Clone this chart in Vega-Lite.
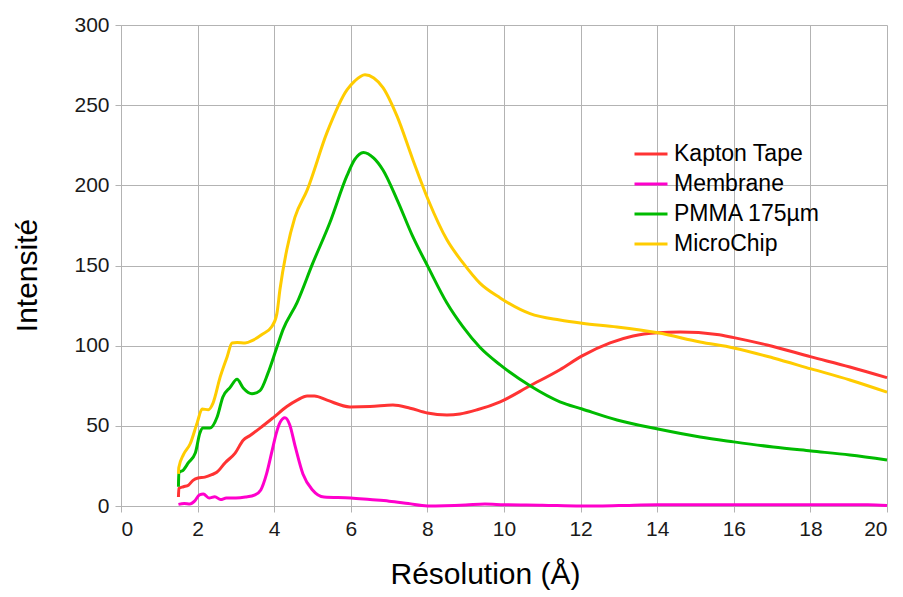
{
  "$schema": "https://vega.github.io/schema/vega-lite/v6.json",
  "width": 766,
  "height": 481,
  "autosize": "none",
  "padding": {"left": 121, "top": 25, "right": 16, "bottom": 91},
  "background": "white",
  "config": {
    "font": "Liberation Sans",
    "view": {"stroke": null},
    "axis": {
      "gridColor": "#b3b3b3",
      "gridWidth": 1,
      "domainColor": "#b3b3b3",
      "tickColor": "#b3b3b3",
      "tickSize": 6,
      "labelFont": "Liberation Sans",
      "labelFontSize": 21,
      "labelColor": "#1a1a1a",
      "titleFont": "Liberation Sans",
      "titleFontSize": 30,
      "titleFontWeight": "normal",
      "titleColor": "#000000"
    }
  },
  "datasets": {
    "curves": [
      {"series": "Kapton Tape", "res": 1.5, "val": 5.6},
      {"series": "Kapton Tape", "res": 1.51, "val": 11},
      {"series": "Kapton Tape", "res": 1.63, "val": 12},
      {"series": "Kapton Tape", "res": 1.76, "val": 13},
      {"series": "Kapton Tape", "res": 1.88, "val": 16},
      {"series": "Kapton Tape", "res": 2.01, "val": 17.5},
      {"series": "Kapton Tape", "res": 2.19, "val": 18},
      {"series": "Kapton Tape", "res": 2.37, "val": 19.5},
      {"series": "Kapton Tape", "res": 2.5, "val": 21},
      {"series": "Kapton Tape", "res": 2.72, "val": 27},
      {"series": "Kapton Tape", "res": 2.98, "val": 33},
      {"series": "Kapton Tape", "res": 3.19, "val": 41},
      {"series": "Kapton Tape", "res": 3.37, "val": 44},
      {"series": "Kapton Tape", "res": 3.63, "val": 48.6},
      {"series": "Kapton Tape", "res": 3.97, "val": 55},
      {"series": "Kapton Tape", "res": 4.33, "val": 62},
      {"series": "Kapton Tape", "res": 4.6, "val": 66},
      {"series": "Kapton Tape", "res": 4.86, "val": 68.6},
      {"series": "Kapton Tape", "res": 5.05, "val": 68.6},
      {"series": "Kapton Tape", "res": 5.38, "val": 66},
      {"series": "Kapton Tape", "res": 5.98, "val": 61.8},
      {"series": "Kapton Tape", "res": 6.5, "val": 62},
      {"series": "Kapton Tape", "res": 7.1, "val": 63},
      {"series": "Kapton Tape", "res": 7.55, "val": 61},
      {"series": "Kapton Tape", "res": 8.0, "val": 58},
      {"series": "Kapton Tape", "res": 8.51, "val": 56.8},
      {"series": "Kapton Tape", "res": 8.85, "val": 57.4},
      {"series": "Kapton Tape", "res": 9.3, "val": 60},
      {"series": "Kapton Tape", "res": 9.9, "val": 65},
      {"series": "Kapton Tape", "res": 10.68, "val": 75},
      {"series": "Kapton Tape", "res": 11.46, "val": 85},
      {"series": "Kapton Tape", "res": 12.04, "val": 93.6},
      {"series": "Kapton Tape", "res": 12.77, "val": 101.7},
      {"series": "Kapton Tape", "res": 13.37, "val": 106},
      {"series": "Kapton Tape", "res": 14.02, "val": 108},
      {"series": "Kapton Tape", "res": 14.6, "val": 108.5},
      {"series": "Kapton Tape", "res": 15.56, "val": 107},
      {"series": "Kapton Tape", "res": 16.0, "val": 105},
      {"series": "Kapton Tape", "res": 16.87, "val": 100.4},
      {"series": "Kapton Tape", "res": 18.02, "val": 93},
      {"series": "Kapton Tape", "res": 19.03, "val": 86.7},
      {"series": "Kapton Tape", "res": 20.0, "val": 80},

      {"series": "Membrane", "res": 1.5, "val": 1},
      {"series": "Membrane", "res": 1.65, "val": 1.5},
      {"series": "Membrane", "res": 1.8, "val": 1.2},
      {"series": "Membrane", "res": 1.92, "val": 3},
      {"series": "Membrane", "res": 2.05, "val": 7},
      {"series": "Membrane", "res": 2.15, "val": 7.5},
      {"series": "Membrane", "res": 2.3, "val": 5},
      {"series": "Membrane", "res": 2.45, "val": 5.8},
      {"series": "Membrane", "res": 2.6, "val": 4},
      {"series": "Membrane", "res": 2.75, "val": 5},
      {"series": "Membrane", "res": 3.0, "val": 5},
      {"series": "Membrane", "res": 3.25, "val": 5.6},
      {"series": "Membrane", "res": 3.5, "val": 7},
      {"series": "Membrane", "res": 3.65, "val": 10},
      {"series": "Membrane", "res": 3.8, "val": 20},
      {"series": "Membrane", "res": 3.95, "val": 35},
      {"series": "Membrane", "res": 4.05, "val": 45},
      {"series": "Membrane", "res": 4.15, "val": 52},
      {"series": "Membrane", "res": 4.28, "val": 55},
      {"series": "Membrane", "res": 4.4, "val": 51},
      {"series": "Membrane", "res": 4.55, "val": 37},
      {"series": "Membrane", "res": 4.75, "val": 20},
      {"series": "Membrane", "res": 5.0, "val": 10},
      {"series": "Membrane", "res": 5.3, "val": 5.6},
      {"series": "Membrane", "res": 6.0, "val": 5},
      {"series": "Membrane", "res": 6.5, "val": 4},
      {"series": "Membrane", "res": 7.0, "val": 3},
      {"series": "Membrane", "res": 7.5, "val": 1.5},
      {"series": "Membrane", "res": 8.0, "val": 0},
      {"series": "Membrane", "res": 9.0, "val": 0.6},
      {"series": "Membrane", "res": 9.5, "val": 1.2},
      {"series": "Membrane", "res": 10.0, "val": 0.8},
      {"series": "Membrane", "res": 11.0, "val": 0.5},
      {"series": "Membrane", "res": 12.0, "val": 0},
      {"series": "Membrane", "res": 13.0, "val": 0.3},
      {"series": "Membrane", "res": 14.0, "val": 0.8},
      {"series": "Membrane", "res": 16.0, "val": 0.8},
      {"series": "Membrane", "res": 18.0, "val": 0.8},
      {"series": "Membrane", "res": 19.5, "val": 0.8},
      {"series": "Membrane", "res": 20.0, "val": 0.3},

      {"series": "PMMA 175µm", "res": 1.5, "val": 12},
      {"series": "PMMA 175µm", "res": 1.51, "val": 20.6},
      {"series": "PMMA 175µm", "res": 1.63, "val": 22.5},
      {"series": "PMMA 175µm", "res": 1.76, "val": 27},
      {"series": "PMMA 175µm", "res": 1.94, "val": 33},
      {"series": "PMMA 175µm", "res": 2.06, "val": 45.5},
      {"series": "PMMA 175µm", "res": 2.14, "val": 48.6},
      {"series": "PMMA 175µm", "res": 2.32, "val": 48.6},
      {"series": "PMMA 175µm", "res": 2.51, "val": 55.5},
      {"series": "PMMA 175µm", "res": 2.66, "val": 68},
      {"series": "PMMA 175µm", "res": 2.85, "val": 74},
      {"series": "PMMA 175µm", "res": 3.03, "val": 79},
      {"series": "PMMA 175µm", "res": 3.19, "val": 73.6},
      {"series": "PMMA 175µm", "res": 3.42, "val": 70},
      {"series": "PMMA 175µm", "res": 3.63, "val": 72},
      {"series": "PMMA 175µm", "res": 3.84, "val": 83},
      {"series": "PMMA 175µm", "res": 4.07, "val": 99},
      {"series": "PMMA 175µm", "res": 4.23, "val": 110},
      {"series": "PMMA 175µm", "res": 4.6, "val": 127},
      {"series": "PMMA 175µm", "res": 5.01, "val": 151.6},
      {"series": "PMMA 175µm", "res": 5.45, "val": 176.5},
      {"series": "PMMA 175µm", "res": 5.9, "val": 206},
      {"series": "PMMA 175µm", "res": 6.1, "val": 216},
      {"series": "PMMA 175µm", "res": 6.33, "val": 220.5},
      {"series": "PMMA 175µm", "res": 6.6, "val": 217},
      {"series": "PMMA 175µm", "res": 6.84, "val": 209.6},
      {"series": "PMMA 175µm", "res": 7.21, "val": 191},
      {"series": "PMMA 175µm", "res": 7.62, "val": 168},
      {"series": "PMMA 175µm", "res": 8.02, "val": 149},
      {"series": "PMMA 175µm", "res": 8.51, "val": 126.6},
      {"series": "PMMA 175µm", "res": 8.93, "val": 111.7},
      {"series": "PMMA 175µm", "res": 9.37, "val": 99},
      {"series": "PMMA 175µm", "res": 9.9, "val": 88},
      {"series": "PMMA 175µm", "res": 10.68, "val": 75},
      {"series": "PMMA 175µm", "res": 11.46, "val": 65},
      {"series": "PMMA 175µm", "res": 12.04, "val": 60.5},
      {"series": "PMMA 175µm", "res": 12.95, "val": 53.6},
      {"series": "PMMA 175µm", "res": 14.02, "val": 48},
      {"series": "PMMA 175µm", "res": 15.12, "val": 43},
      {"series": "PMMA 175µm", "res": 16.0, "val": 40},
      {"series": "PMMA 175µm", "res": 17.03, "val": 36.8},
      {"series": "PMMA 175µm", "res": 18.02, "val": 34.3},
      {"series": "PMMA 175µm", "res": 19.03, "val": 31.8},
      {"series": "PMMA 175µm", "res": 20.0, "val": 28.7},

      {"series": "MicroChip", "res": 1.5, "val": 20},
      {"series": "MicroChip", "res": 1.51, "val": 24},
      {"series": "MicroChip", "res": 1.63, "val": 32},
      {"series": "MicroChip", "res": 1.81, "val": 39},
      {"series": "MicroChip", "res": 1.99, "val": 52},
      {"series": "MicroChip", "res": 2.12, "val": 60.5},
      {"series": "MicroChip", "res": 2.28, "val": 60},
      {"series": "MicroChip", "res": 2.4, "val": 64},
      {"series": "MicroChip", "res": 2.59, "val": 80.5},
      {"series": "MicroChip", "res": 2.77, "val": 93},
      {"series": "MicroChip", "res": 2.9, "val": 101.7},
      {"series": "MicroChip", "res": 3.03, "val": 102},
      {"series": "MicroChip", "res": 3.24, "val": 101.7},
      {"series": "MicroChip", "res": 3.45, "val": 103.5},
      {"series": "MicroChip", "res": 3.68, "val": 107},
      {"series": "MicroChip", "res": 3.94, "val": 112},
      {"series": "MicroChip", "res": 4.07, "val": 120},
      {"series": "MicroChip", "res": 4.15, "val": 135},
      {"series": "MicroChip", "res": 4.33, "val": 160},
      {"series": "MicroChip", "res": 4.54, "val": 180},
      {"series": "MicroChip", "res": 4.86, "val": 197},
      {"series": "MicroChip", "res": 5.38, "val": 233},
      {"series": "MicroChip", "res": 5.9, "val": 259.5},
      {"series": "MicroChip", "res": 6.1, "val": 265},
      {"series": "MicroChip", "res": 6.37, "val": 269},
      {"series": "MicroChip", "res": 6.6, "val": 267},
      {"series": "MicroChip", "res": 6.84, "val": 261},
      {"series": "MicroChip", "res": 7.21, "val": 243},
      {"series": "MicroChip", "res": 7.62, "val": 216},
      {"series": "MicroChip", "res": 8.02, "val": 191},
      {"series": "MicroChip", "res": 8.51, "val": 166},
      {"series": "MicroChip", "res": 8.93, "val": 151.6},
      {"series": "MicroChip", "res": 9.37, "val": 139},
      {"series": "MicroChip", "res": 9.9, "val": 129.8},
      {"series": "MicroChip", "res": 10.68, "val": 120},
      {"series": "MicroChip", "res": 11.46, "val": 116},
      {"series": "MicroChip", "res": 12.04, "val": 114},
      {"series": "MicroChip", "res": 12.95, "val": 111.7},
      {"series": "MicroChip", "res": 14.02, "val": 108},
      {"series": "MicroChip", "res": 15.12, "val": 102.3},
      {"series": "MicroChip", "res": 16.0, "val": 98.6},
      {"series": "MicroChip", "res": 17.03, "val": 92.3},
      {"series": "MicroChip", "res": 18.02, "val": 85.5},
      {"series": "MicroChip", "res": 19.03, "val": 78.6},
      {"series": "MicroChip", "res": 20.0, "val": 71}
    ]
  },
  "data": {"name": "curves"},
  "mark": {"type": "line", "strokeWidth": 3, "interpolate": "monotone"},
  "encoding": {
    "x": {
      "field": "res",
      "type": "quantitative",
      "title": "Résolution (Å)",
      "scale": {"domain": [0, 20], "nice": false, "zero": false},
      "axis": {"values": [0, 2, 4, 6, 8, 10, 12, 14, 16, 18, 20], "labelPadding": 6, "titlePadding": 20, "titleX": 364}
    },
    "y": {
      "field": "val",
      "type": "quantitative",
      "title": "Intensité",
      "scale": {"domain": [0, 300], "nice": false},
      "axis": {"values": [0, 50, 100, 150, 200, 250, 300], "labelPadding": 6, "titlePadding": 31, "titleY": 250}
    },
    "color": {
      "field": "series",
      "type": "nominal",
      "sort": ["Kapton Tape", "Membrane", "PMMA 175µm", "MicroChip"],
      "scale": {
        "domain": ["Kapton Tape", "Membrane", "PMMA 175µm", "MicroChip"],
        "range": ["#ff3333", "#ff00cc", "#00bb00", "#ffcc00"]
      },
      "legend": {
        "title": null,
        "orient": "none",
        "legendX": 512,
        "legendY": 111,
        "symbolType": "stroke",
        "symbolSize": 1089,
        "symbolStrokeWidth": 3,
        "labelFont": "Liberation Sans",
        "labelFontSize": 23,
        "labelColor": "#000000",
        "labelOffset": 5,
        "rowPadding": 0
      }
    }
  }
}
